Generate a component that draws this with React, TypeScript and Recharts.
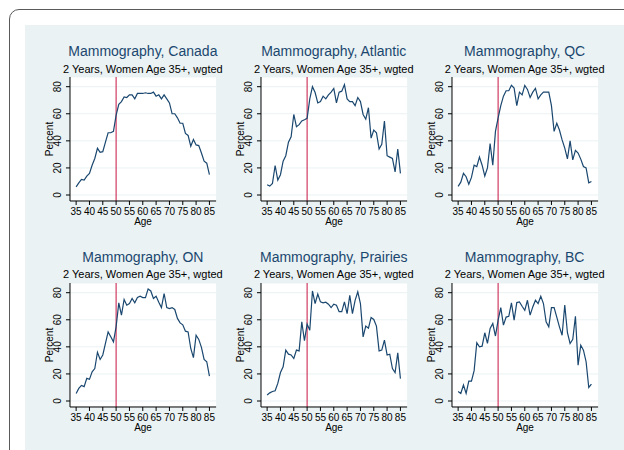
import React from 'react';
import { LineChart, Line, XAxis, YAxis, CartesianGrid, ReferenceLine } from 'recharts';

// ---------- data ----------
const ages = [
  35, 36, 37, 38, 39, 40, 41, 42, 43, 44, 45, 46, 47, 48, 49,
  50, 51, 52, 53, 54, 55, 56, 57, 58, 59, 60, 61, 62, 63, 64, 65, 66, 67,
  68, 69, 70, 71, 72, 73, 74, 75, 76, 77, 78, 79, 80, 81, 82, 83, 84, 85,
];
const xTicks = [35, 40, 45, 50, 55, 60, 65, 70, 75, 80, 85];
const yTicks = [0, 20, 40, 60, 80];
const cutoffAge = 50;

const regions = ['Canada', 'Atlantic', 'QC', 'ON', 'Prairies', 'BC'];
const titlePrefix = 'Mammography, ';
const subtitle = '2 Years, Women Age 35+, wgted';
const xTitle = 'Age';
const yTitle = 'Percent';

const canada = [
  6, 9, 11.5, 11, 14, 16, 22, 27, 34.5, 31.6, 32, 39, 46, 46, 47,
  59, 67, 69, 72.5, 72, 74, 74, 71, 75, 75, 75, 75.5, 75, 75, 76, 73, 74, 71,
  74, 71, 68, 60, 60, 57, 53, 53, 45.5, 44, 36, 41, 37, 36.5, 31, 25, 23.5, 15,
];
const atlantic = [
  7.6, 6.6, 8.6, 21.8, 11, 15, 25, 29, 39, 43, 59.5, 50.5, 52, 54.7, 55.6,
  56.6, 71, 80, 75.7, 68, 69, 73, 71, 74, 76, 78.7, 68, 76, 76.7, 81.6, 71, 69, 69,
  66, 72, 69, 59.5, 56, 64.5, 42, 48, 46, 34, 37.5, 54.7, 29, 28, 27, 17, 34, 16,
];
const qc = [
  6.4, 9.5, 16, 13.5, 8, 13, 22, 21, 28, 22, 14, 20, 38, 22, 47,
  57, 66, 73, 77, 77, 81, 79, 66, 76, 74, 81, 78, 72, 76, 78.7, 71, 74, 76,
  76, 76, 66, 47, 53, 48, 40.7, 34.6, 26.7, 40, 26, 33, 31, 26.5, 21, 20, 9, 10,
];
const on = [
  5.6, 9.3, 11.5, 10.6, 16.7, 16, 21.6, 24, 36, 30.7, 34, 42.5, 51, 47.4, 43.7,
  55, 72.5, 63.4, 75, 70.8, 72, 75.7, 72.5, 76.4, 77.4, 76.4, 76.4, 82.8, 81.3, 75.7, 77.4, 73, 69,
  79.4, 69, 68.3, 69, 67.6, 61, 57.7, 56.3, 51.6, 51, 38.8, 32, 48.6, 45.5, 39.6, 30.7, 29, 18.4,
];
const prairies = [
  4.4, 6, 7, 7.6, 13, 21, 25.3, 37.6, 34.6, 34, 31.4, 37.6, 37, 58.5, 44.5,
  56.8, 52.3, 81.3, 72, 79, 73.2, 72.5, 73, 71.5, 69, 71.5, 70.8, 66, 66, 73.2, 64.6, 78, 64.6,
  74.4, 80.6, 72, 47.4, 55.3, 53.8, 61.7, 60.2, 55.3, 37, 37.6, 45, 34, 34.6, 24, 21, 35.6, 16.5,
];
const bc = [
  7, 5.6, 11.8, 5.6, 14.7, 14.7, 22.4, 43, 40, 40.5, 50.4, 42.5, 53.6, 57.2, 48,
  59.7, 69, 56, 62, 62.6, 72.5, 59.7, 72.7, 73.2, 70, 67, 74.4, 63.4, 69.5, 74.4, 72, 77.4, 72,
  58.5, 54.8, 69, 69, 62, 54.8, 48.6, 70.8, 50.4, 42.5, 45.5, 62.6, 26.5, 41.3, 37.6, 29, 10, 12.5,
];
const seriesList = [canada, atlantic, qc, on, prairies, bc];

// ---------- style / layout ----------
const FONT = '"Liberation Sans", Arial, Helvetica, sans-serif';
const NAVY = '#1a476f';
const RED = '#d03a62';
const BG = '#eaf2f3';
const TICK_FS = 10;

const PLOT_W = 146.1;
const PLOT_H = 124;
const Y_AXIS_W = 45;
const X_AXIS_H = 30;
const M_TOP = 5;
const M_RIGHT = 5;
const CHART_W = Y_AXIS_W + PLOT_W + M_RIGHT;
const CHART_H = M_TOP + PLOT_H + X_AXIS_H;
const colX = [69.8, 260.7, 451.6];
const rowY = [77, 282.5];
const X_DOMAIN: [number, number] = [32.7, 87.5];
const Y_DOMAIN: [number, number] = [-4.43, 87.16];

const YTick = (props: any) => {
  const { x, y, payload } = props;
  return (
    <text
      x={x}
      y={y}
      transform={`rotate(-90 ${x} ${y})`}
      textAnchor="middle"
      fontSize={TICK_FS}
      fill="#000"
      fontFamily={FONT}
    >
      {payload.value}
    </text>
  );
};

const YTitle = () => {
  const x = Y_AXIS_W - 16.8;
  const y = M_TOP + PLOT_H / 2;
  return (
    <text
      x={x}
      y={y}
      transform={`rotate(-90 ${x} ${y})`}
      textAnchor="middle"
      fontSize={TICK_FS}
      fill="#000"
      fontFamily={FONT}
    >
      {yTitle}
    </text>
  );
};

const XTitle = () => (
  <text
    x={Y_AXIS_W + PLOT_W / 2}
    y={M_TOP + PLOT_H + 24}
    textAnchor="middle"
    fontSize={TICK_FS}
    fill="#000"
    fontFamily={FONT}
  >
    {xTitle}
  </text>
);

function Panel({ values, left, top }: { values: number[]; left: number; top: number }) {
  const data = ages.map((a, i) => ({ age: a, value: values[i] }));
  return (
    <div style={{ position: 'absolute', left: left - Y_AXIS_W, top: top - M_TOP }}>
      <LineChart
        width={CHART_W}
        height={CHART_H}
        data={data}
        margin={{ top: M_TOP, right: M_RIGHT, bottom: 0, left: 0 }}
      >
        <CartesianGrid vertical={false} stroke={BG} strokeWidth={1} fill="#ffffff" fillOpacity={1} />
        <XAxis
          type="number"
          dataKey="age"
          domain={X_DOMAIN}
          ticks={xTicks}
          interval={0}
          allowDataOverflow
          height={X_AXIS_H}
          tickSize={4}
          tickMargin={2.8}
          axisLine={{ stroke: '#000', strokeWidth: 1 }}
          tickLine={{ stroke: '#000', strokeWidth: 1 }}
          tick={{ fill: '#000', fontSize: TICK_FS, fontFamily: FONT }}
          label={{ content: () => <XTitle /> }}
        />
        <YAxis
          type="number"
          domain={Y_DOMAIN}
          ticks={yTicks}
          interval={0}
          allowDataOverflow
          width={Y_AXIS_W}
          tickSize={4}
          tickMargin={5.3}
          axisLine={{ stroke: '#000', strokeWidth: 1 }}
          tickLine={{ stroke: '#000', strokeWidth: 1 }}
          tick={(p: any) => <YTick {...p} />}
          label={{ content: () => <YTitle /> }}
        />
        <ReferenceLine x={cutoffAge} stroke={RED} strokeWidth={1.2} />
        <Line
          type="linear"
          dataKey="value"
          stroke={NAVY}
          strokeWidth={1.2}
          dot={false}
          activeDot={false}
          isAnimationActive={false}
        />
      </LineChart>
    </div>
  );
}

export default function App() {
  return (
    <div
      style={{
        position: 'absolute',
        left: 0,
        top: 0,
        width: 624,
        height: 450,
        overflow: 'hidden',
        background: '#ffffff',
        fontFamily: FONT,
      }}
    >
      <div
        style={{
          position: 'absolute',
          left: 9,
          top: 9,
          width: 700,
          height: 520,
          border: '1px solid #5a5a5a',
          borderRadius: 10,
          boxSizing: 'border-box',
        }}
      />
      <div style={{ position: 'absolute', left: 25, top: 25, width: 620, height: 440, background: BG }} />
      <svg style={{ position: 'absolute', left: 0, top: 0 }} width={624} height={450}>
        {regions.map((r, i) => {
          const cx = colX[i % 3] + PLOT_W / 2;
          const base = i < 3 ? 0 : rowY[1] - rowY[0];
          return (
            <g key={r}>
              <text x={cx} y={56 + base} textAnchor="middle" fontSize={14} fill={NAVY} fontFamily={FONT}>
                {titlePrefix + r}
              </text>
              <text x={cx} y={72.8 + base} textAnchor="middle" fontSize={11} fill="#000" fontFamily={FONT}>
                {subtitle}
              </text>
            </g>
          );
        })}
      </svg>
      {seriesList.map((vals, i) => (
        <Panel key={regions[i]} values={vals} left={colX[i % 3]} top={rowY[Math.floor(i / 3)]} />
      ))}
    </div>
  );
}
